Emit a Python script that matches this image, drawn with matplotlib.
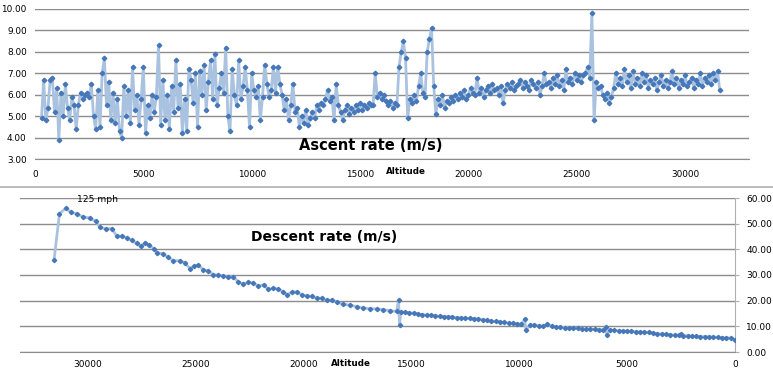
import numpy as np
import matplotlib.pyplot as plt
from matplotlib.lines import Line2D

# ascent rate (m/s), one reading every 100 m starting at 300 m
asc_start = 300
asc_step = 100
ascent_rate = [
    4.9, 6.7, 4.8, 5.4, 6.7, 6.8, 5.2, 6.3, 3.9, 6.1,
    5.0, 6.5, 5.4, 4.8, 5.9, 5.5, 4.4, 5.5, 6.1, 5.8,
    6.0, 6.1, 5.9, 6.5, 5.0, 4.4, 6.2, 4.5, 7.0, 7.7,
    5.5, 6.6, 4.8, 6.1, 4.7, 5.8, 4.3, 4.0, 6.4, 5.0,
    6.2, 4.7, 7.3, 5.3, 6.0, 4.6, 5.8, 7.3, 4.2, 5.5,
    4.9, 6.0, 5.2, 5.9, 8.3, 4.6, 6.7, 4.8, 6.0, 4.4,
    6.4, 5.2, 7.6, 5.4, 6.5, 4.2, 5.8, 4.3, 7.2, 6.7,
    5.6, 7.0, 4.5, 7.1, 6.0, 7.4, 5.3, 6.6, 7.6, 5.8,
    7.9, 5.5, 6.3, 7.0, 6.1, 8.2, 5.0, 4.3, 7.2, 6.0,
    5.5, 7.6, 5.8, 6.4, 7.3, 6.2, 4.5, 7.0, 6.2, 5.9,
    6.4, 4.8, 5.9, 7.4, 6.5, 5.9, 6.2, 7.3, 6.1, 7.3,
    6.5, 6.0, 5.3, 5.8, 4.8, 5.5, 6.5, 5.2, 5.4, 4.5,
    5.0, 4.7, 5.3, 4.6, 4.9, 5.2, 4.9, 5.5, 5.3, 5.6,
    5.5, 5.8, 6.2, 5.7, 5.9, 4.8, 6.5, 5.5, 5.2, 4.8,
    5.3, 5.5, 5.1, 5.4, 5.2, 5.5, 5.3, 5.6, 5.3, 5.5,
    5.4, 5.6, 5.5, 5.5, 7.0, 5.9, 6.1, 5.8, 6.0, 5.7,
    5.5, 5.7, 5.4, 5.6, 5.5, 7.3, 8.0, 8.5, 7.7, 4.9,
    5.8, 5.6, 6.0, 5.7, 6.4, 7.0, 6.1, 5.9, 8.0, 8.6,
    9.1, 6.4, 5.1, 5.8, 5.5, 6.0, 5.4, 5.7, 5.6, 5.9,
    5.7, 6.0, 5.8, 6.1, 5.9, 6.2, 5.8, 6.0, 6.3, 6.1,
    6.0, 6.8, 6.1, 6.3, 5.9, 6.2, 6.4, 6.1, 6.5, 6.2,
    6.3, 6.0, 6.4, 5.6, 6.2, 6.5, 6.3, 6.6, 6.2, 6.4,
    6.5, 6.7, 6.3, 6.6, 6.4, 6.2, 6.7, 6.5, 6.3, 6.6,
    6.0, 6.4, 7.0, 6.5, 6.6, 6.3, 6.8, 6.5, 6.9, 6.4,
    6.7, 6.2, 7.2, 6.6, 6.8, 6.5, 7.0, 6.7, 6.9, 6.6,
    6.9, 7.0, 7.3, 6.8, 9.8, 4.8, 6.6, 6.3, 6.4, 6.0,
    5.8, 6.1, 5.6, 5.9, 6.3, 7.0, 6.5, 6.8, 6.4, 7.2,
    6.6, 6.9, 6.3, 7.1, 6.5, 6.8, 6.4, 7.0, 6.6, 6.9,
    6.3, 6.7, 6.5, 6.8, 6.2, 6.6, 6.9, 6.4, 6.7, 6.3,
    6.6, 7.1, 6.5, 6.8, 6.3, 6.7, 6.5, 6.9, 6.4, 6.6,
    6.8, 6.3, 6.7, 6.5, 7.0, 6.4, 6.8, 6.6, 6.9, 6.5,
    7.0, 6.7, 7.1, 6.2,
]
asc_alt = asc_start + asc_step * np.arange(len(ascent_rate))

# descent
descent_alt = [
    31570, 31320, 31030, 30780, 30520, 30210, 29900, 29640, 29440, 29160,
    28900, 28670, 28400, 28200, 27970, 27740, 27550, 27350, 27150, 26930,
    26780, 26500, 26300, 26040, 25730, 25500, 25270, 25070, 24880, 24650,
    24420, 24190, 23950, 23720, 23490, 23260, 23030, 22790, 22560, 22330,
    22100, 21860, 21630, 21400, 21170, 20940, 20750, 20550, 20320, 20090,
    19860, 19630, 19390, 19160, 18930, 18700, 18470, 18160, 17850, 17540,
    17230, 16920, 16610, 16300, 15990, 15690, 15600, 15550, 15500,
    15300, 15100, 14900, 14700, 14500, 14300, 14100, 13900, 13700, 13500,
    13300, 13100, 12900, 12700, 12500, 12300, 12100, 11900, 11700, 11500,
    11300, 11100, 10900, 10700, 10500, 10300, 10100, 9900, 9750, 9700,
    9500, 9300, 9100, 8900, 8700, 8500, 8300, 8100, 7900, 7700,
    7500, 7300, 7100, 6900, 6700, 6500, 6300, 6100, 6000, 5950,
    5800, 5600, 5400, 5200, 5000, 4800, 4600, 4400, 4200, 4000,
    3800, 3600, 3400, 3200, 3000, 2800, 2600, 2500, 2400, 2200,
    2000, 1800, 1600, 1400, 1200, 1000, 800, 600, 400, 200, 0,
]
descent_rate = [
    36.0, 53.9, 56.0, 54.4, 53.8, 52.6, 52.2, 50.9, 48.6, 47.9,
    48.1, 45.3, 45.1, 44.4, 43.5, 42.3, 41.2, 42.6, 41.6, 40.1,
    38.6, 38.3, 36.9, 35.6, 35.6, 34.7, 32.5, 33.6, 33.8, 32.1,
    31.7, 30.1, 30.0, 29.7, 29.1, 29.4, 27.3, 26.5, 27.1, 26.9,
    25.7, 26.2, 24.4, 24.8, 24.5, 23.4, 22.3, 23.4, 23.4, 22.3,
    21.9, 21.7, 20.9, 21.0, 20.1, 20.3, 19.4, 18.7, 18.2, 17.7,
    17.1, 16.9, 16.8, 16.5, 16.1, 15.8, 20.3, 10.4, 15.6,
    15.4, 15.3, 15.1, 14.8, 14.6, 14.4, 14.3, 14.2, 14.0, 13.8,
    13.8, 13.6, 13.4, 13.3, 13.2, 13.1, 13.0, 12.9, 12.6, 12.3,
    12.0, 11.9, 11.7, 11.5, 11.3, 11.2, 11.0, 10.9, 12.7, 8.5,
    10.6, 10.5, 10.3, 10.1, 10.9, 10.0, 9.8, 9.6, 9.5, 9.4,
    9.3, 9.2, 9.1, 9.0, 8.9, 8.8, 8.7, 8.6, 9.8, 6.8,
    8.5, 8.4, 8.3, 8.2, 8.1, 8.0, 7.9, 7.8, 7.7, 7.6,
    7.4, 7.2, 7.0, 6.9, 6.7, 6.6, 6.5, 7.0, 6.4, 6.3,
    6.2, 6.1, 6.0, 6.0, 5.9, 5.8, 5.7, 5.6, 5.5, 5.5, 4.8,
]

asc_ticks = [3, 4, 5, 6, 7, 8, 9, 10]
desc_ticks = [0, 10, 20, 30, 40, 50, 60]
alt_ticks = [0, 5000, 10000, 15000, 20000, 25000, 30000]

line_col = '#a9c2e0'
mark_col = '#4677b8'
grid_col = '#8c8c8c'

fig = plt.figure(figsize=(7.73, 3.73), dpi=100)

# upper chart
ax1 = fig.add_axes([35/773, 1-159/373, 714/773, 150/373])
ax1.plot(asc_alt, ascent_rate, color=line_col, lw=2.0, zorder=2)
ax1.plot(asc_alt, ascent_rate, ls='none', marker='D', ms=2.3,
         color=mark_col, zorder=3)
ax1.set_xlim(0, 32950)
ax1.set_ylim(3, 10)
ax1.set_yticks(asc_ticks)
ax1.set_yticklabels(['%.2f' % v for v in asc_ticks])
ax1.set_xticks(alt_ticks)
ax1.yaxis.grid(True, color=grid_col, lw=1)
for s in ['top', 'left', 'right']:
    ax1.spines[s].set_visible(False)
ax1.spines['bottom'].set_color(grid_col)
ax1.tick_params(axis='both', length=0, labelsize=6.4)
ax1.tick_params(axis='y', pad=6)
ax1.tick_params(axis='x', pad=8)
ax1.set_axisbelow(True)
ax1.text(0.47, 0.04, 'Ascent rate (m/s)', transform=ax1.transAxes,
         ha='center', va='bottom', fontsize=10.5, fontweight='bold')
fig.text(406/773, 1-172/373, 'Altitude', ha='center', va='center',
         fontsize=6.3, fontweight='bold')

# separator
fig.add_artist(Line2D([0, 1], [1-186.5/373, 1-186.5/373], color='#b0b0b0', lw=1.2))

# lower chart
ax2 = fig.add_axes([20/773, 1-352/373, 715/773, 154/373])
ax2.plot(descent_alt, descent_rate, color=line_col, lw=2.0, zorder=2)
ax2.plot(descent_alt, descent_rate, ls='none', marker='D', ms=2.2,
         color=mark_col, zorder=3)
ax2.set_xlim(33150, 0)
ax2.set_ylim(0, 60)
ax2.yaxis.tick_right()
ax2.set_yticks(desc_ticks)
ax2.set_yticklabels(['%.2f' % v for v in desc_ticks])
ax2.set_xticks(alt_ticks)
ax2.yaxis.grid(True, color=grid_col, lw=1)
for s in ['top', 'left']:
    ax2.spines[s].set_visible(False)
ax2.spines['bottom'].set_color(grid_col)
ax2.spines['right'].set_color('#b0b0b0')
ax2.tick_params(axis='y', length=3, color='#b0b0b0', labelsize=6.5, pad=5)
ax2.tick_params(axis='x', length=0, labelsize=6.5, pad=6)
ax2.set_axisbelow(True)
fig.text(324/773, 1-237/373, 'Descent rate (m/s)', ha='center', va='center',
         fontsize=10, fontweight='bold')
fig.text(351/773, 1-364/373, 'Altitude', ha='center', va='center',
         fontsize=6.3, fontweight='bold')
ax2.annotate('125 mph', xy=(31030, 56.0), xytext=(8, 3), textcoords='offset points',
             fontsize=6.6, va='bottom')

fig.savefig('out.png', dpi=100)
